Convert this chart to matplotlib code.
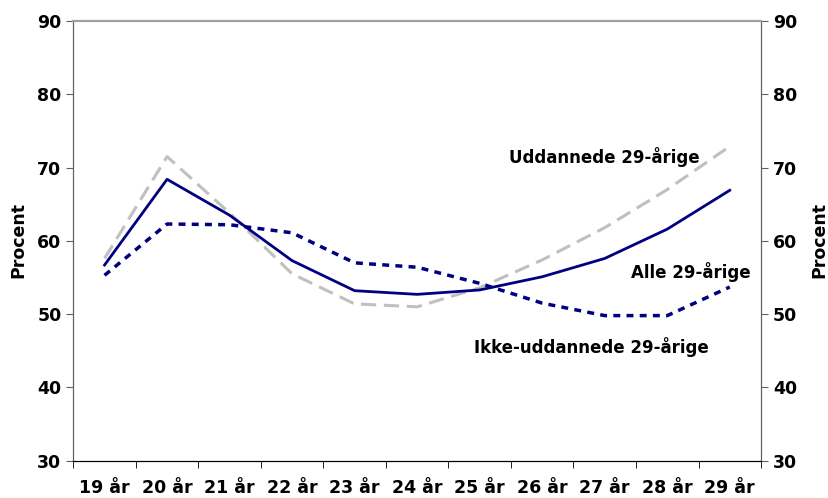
import matplotlib.pyplot as plt
import numpy as np

plt.rcParams['font.family'] = ['DejaVu Sans']
plt.rcParams['font.weight'] = 'bold'

alder = ['19 år', '20 år', '21 år', '22 år', '23 år', '24 år', '25 år',
         '26 år', '27 år', '28 år', '29 år']
alle = [56.7, 68.4, 63.5, 57.3, 53.2, 52.7, 53.3, 55.1, 57.6, 61.6, 66.9]
uddannede = [57.6, 71.5, 63.8, 55.5, 51.4, 51.0, 53.6, 57.4, 61.8, 67.0, 72.9]
ikke_uddannede = [55.3, 62.3, 62.2, 61.1, 57.0, 56.4, 54.2, 51.5, 49.8, 49.8, 53.7]
y_ticks = [30, 40, 50, 60, 70, 80, 90]

x = np.arange(len(alder))
navy = '#000080'
fs = 12.5

fig = plt.figure(figsize=(8.29, 4.98), dpi=100)
ax = fig.add_axes([0.0884, 0.0749, 0.8296, 0.8829])

# linjer
ax.plot(x, uddannede, color='#c0c0c0', lw=2.2, dashes=(5, 2.5))
ax.plot(x, ikke_uddannede, color=navy, lw=2.5, dashes=(2, 1.8))
ax.plot(x, alle, color=navy, lw=2)

ax.set_xlim(-0.5, len(alder) - 0.5)
ax.set_ylim(30, 90)

# x-akse
ax.set_xticks(x)
ax.set_xticklabels(alder, fontsize=fs, fontweight='bold')
ax.set_xticks(np.arange(-0.5, len(alder)), minor=True)
ax.tick_params(axis='x', which='major', length=0, pad=13)
ax.tick_params(axis='x', which='minor', length=5, color='black', direction='out')

# y-akser (venstre og højre)
ax.set_yticks(y_ticks)
ax.tick_params(axis='y', labelsize=fs, length=5, color='#606060', right=False)
ax2 = ax.twinx()
ax2.set_ylim(ax.get_ylim())
ax2.set_yticks(y_ticks)
ax2.tick_params(axis='y', labelsize=fs, length=5, color='#606060')
for a in (ax, ax2):
    for lbl in a.get_yticklabels():
        lbl.set_fontweight('bold')
    a.spines['top'].set_color('#a0a0a0')
    a.spines['top'].set_linewidth(1.5)
    a.spines['left'].set_color('#606060')
    a.spines['right'].set_color('#606060')
    a.spines['bottom'].set_color('black')

fig.text(18 / 829, 0.518, 'Procent', fontsize=fs, fontweight='bold',
         rotation=90, ha='center', va='center')
fig.text(819 / 829, 0.518, 'Procent', fontsize=fs, fontweight='bold',
         rotation=90, ha='center', va='center')

# tekster
ax.text(7.99, 71.4, 'Uddannede 29-årige', fontsize=12, fontweight='bold',
        ha='center', va='center')
ax.text(9.38, 55.7, 'Alle 29-årige', fontsize=12, fontweight='bold',
        ha='center', va='center')
ax.text(7.78, 45.5, 'Ikke-uddannede 29-årige', fontsize=12, fontweight='bold',
        ha='center', va='center')

plt.savefig('out.png', dpi=100)
